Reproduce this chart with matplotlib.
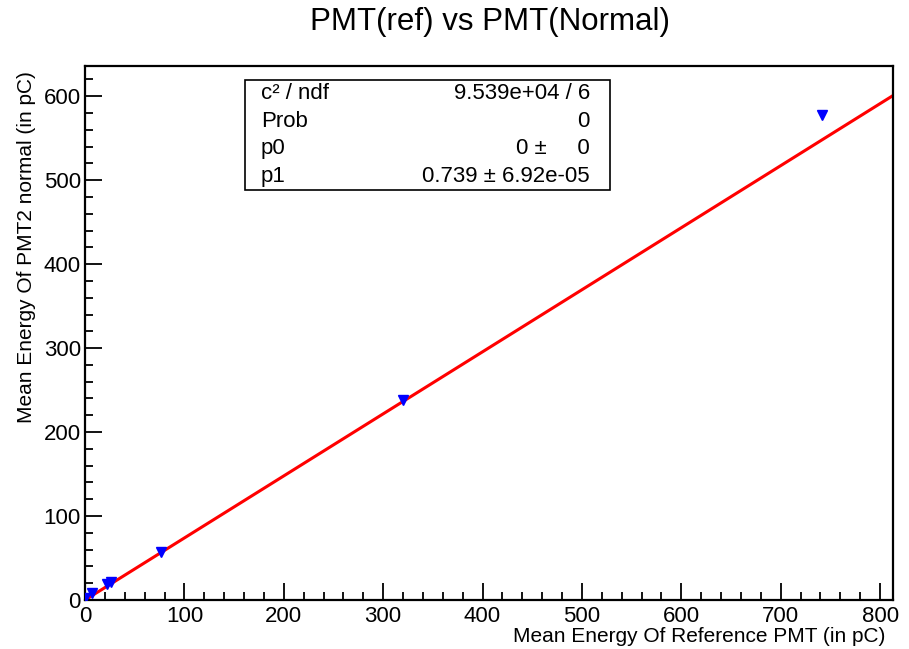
import numpy as np
import matplotlib.pyplot as plt
from matplotlib.ticker import MultipleLocator

plt.rcParams['font.family'] = ['Liberation Sans', 'DejaVu Sans']

# mean energies (pC)
ref_energy = [0.5, 7, 22, 26, 76.5, 320, 742]
pmt2_energy = [2, 8, 19, 21, 57, 238, 578]

# fit result (pol1 with p0 fixed at 0)
p0 = 0.0
p1 = 0.739
stats_labels = ['c\u00b2 / ndf', 'Prob', 'p0', 'p1']
stats_values = ['9.539e+04 / 6', '0', '0 \u00b1     0', '0.739 \u00b1 6.92e-05']

x_max = 813
y_max = 636

fig = plt.figure(figsize=(9.09, 6.49), dpi=100)
ax = fig.add_axes([85 / 909, 49 / 649, 808 / 909, 534 / 649])

xs = np.array([0, x_max])
ax.plot(xs, p0 + p1 * xs, color='#ff0000', lw=2.2, zorder=2)
ax.plot(ref_energy, pmt2_energy, linestyle='none', marker='v', ms=7,
        color='#0000ff', zorder=3)

ax.set_xlim(0, x_max)
ax.set_ylim(0, y_max)

ax.xaxis.set_major_locator(MultipleLocator(100))
ax.xaxis.set_minor_locator(MultipleLocator(20))
ax.yaxis.set_major_locator(MultipleLocator(100))
ax.yaxis.set_minor_locator(MultipleLocator(20))
ax.tick_params(which='both', direction='in', top=False, right=False,
               labelsize=16, width=1.3)
ax.tick_params(which='major', length=12)
ax.tick_params(axis='x', which='major', pad=4)
ax.tick_params(axis='y', which='major', pad=3)
ax.tick_params(which='minor', length=6)
for s in ax.spines.values():
    s.set_linewidth(1.6)

ax.set_xlabel('Mean Energy Of Reference PMT (in pC)', fontsize=15,
              ha='right', va='center')
ax.xaxis.set_label_coords(0.99, -0.068)
ax.set_ylabel('Mean Energy Of PMT2 normal (in pC)', fontsize=15,
              ha='right', va='center')
ax.yaxis.set_label_coords(-0.072, 0.99)

fig.text(490 / 909, 1 - 22 / 649, 'PMT(ref) vs PMT(Normal)', fontsize=22.5,
         ha='center', va='center')

# stats box
bx0, by0, bx1, by1 = 245, 80, 610, 190
box = plt.Rectangle((bx0 / 909, 1 - by1 / 649), (bx1 - bx0) / 909,
                    (by1 - by0) / 649, transform=fig.transFigure,
                    facecolor='white', edgecolor='black', lw=1.2, zorder=5)
fig.add_artist(box)
row_h = (by1 - by0) / 4
for i, (lab, val) in enumerate(zip(stats_labels, stats_values)):
    yc = 1 - (by0 + row_h * (i + 0.5)) / 649
    fig.text((bx0 + 16) / 909, yc, lab, fontsize=16, ha='left',
             va='center', zorder=6)
    fig.text((bx1 - 20) / 909, yc, val, fontsize=16, ha='right',
             va='center', zorder=6)

fig.savefig('out.png', dpi=100)
